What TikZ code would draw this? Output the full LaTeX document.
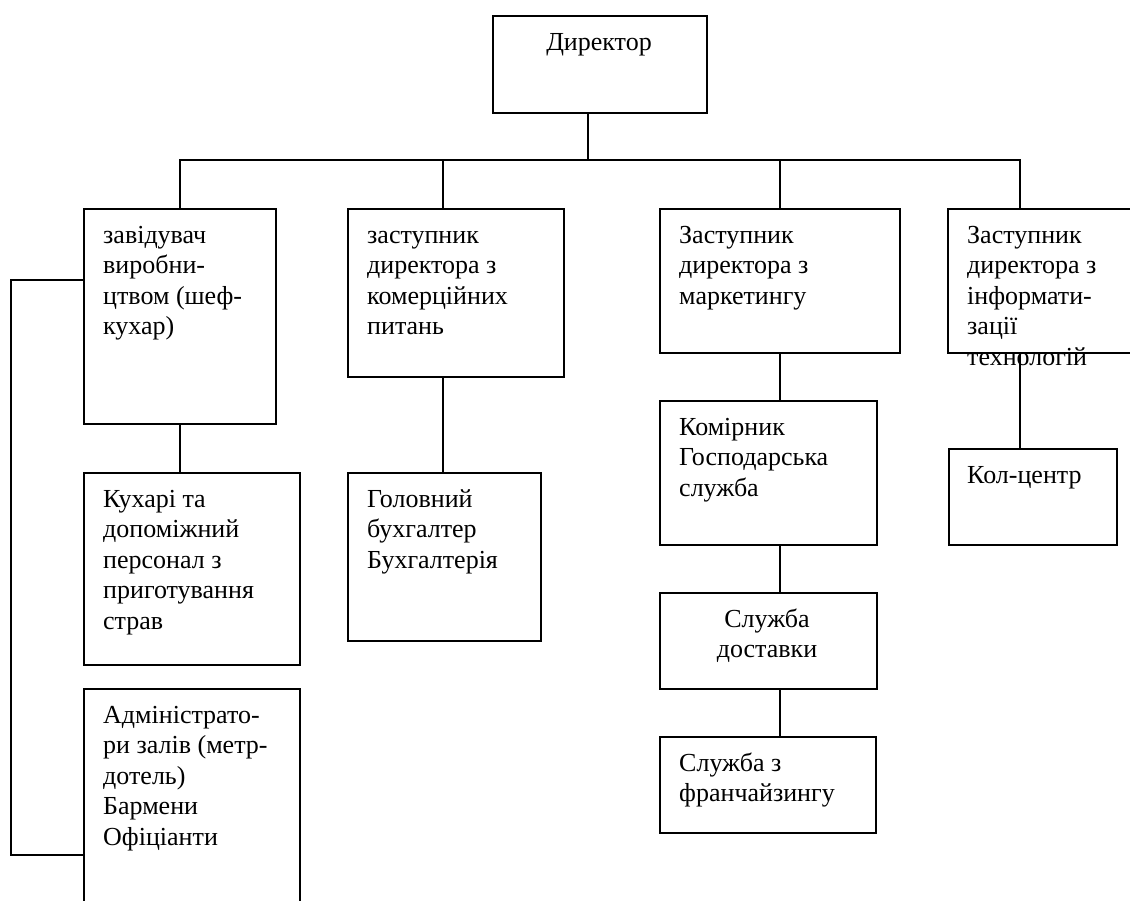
\documentclass[tikz,border=0pt]{standalone}
\usepackage{fontspec}
\setmainfont{Liberation Serif}
\newcommand{\lft}[1]{\begin{tabular}[t]{@{}l@{}}#1\end{tabular}}
\newcommand{\ctr}[1]{\begin{tabular}[t]{@{}c@{}}#1\end{tabular}}
\begin{document}
\begin{tikzpicture}[x=1pt,y=-1pt,
  box/.style={draw, line width=2pt, inner sep=0pt, anchor=north west},
  txt/.style={inner sep=0pt, anchor=base west, font=\fontsize{26}{30.5}\selectfont},
  ctxt/.style={inner sep=0pt, anchor=base, font=\fontsize{26}{30.5}\selectfont},
  conn/.style={line width=2pt}]
\useasboundingbox (0,0) rectangle (1130,900);
\clip (0,0) rectangle (1130,900);
\fill[white] (0,0) rectangle (1130,900);
% boxes
\node[box, minimum width=214pt, minimum height=97pt] (dir) at (492,15) {};
\node[box, minimum width=192pt, minimum height=215pt] (b1) at (83,208) {};
\node[box, minimum width=216pt, minimum height=168pt] (b2) at (347,208) {};
\node[box, minimum width=240pt, minimum height=144pt] (b3) at (659,208) {};
\node[box, minimum width=200pt, minimum height=144pt] (b4) at (947,208) {};
\node[box, minimum width=216pt, minimum height=192pt] (c1) at (83,472) {};
\node[box, minimum width=193pt, minimum height=168pt] (c2) at (347,472) {};
\node[box, minimum width=216pt, minimum height=230pt] (c3) at (83,688) {};
\node[box, minimum width=217pt, minimum height=144pt] (d1) at (659,400) {};
\node[box, minimum width=217pt, minimum height=96pt] (d2) at (659,592) {};
\node[box, minimum width=216pt, minimum height=96pt] (d3) at (659,736) {};
\node[box, minimum width=168pt, minimum height=96pt] (e1) at (948,448) {};
% texts
\node[ctxt] (tdir) at (599,50) {Директор};
\node[txt] (tb1) at (103,243) {\lft{завідувач\\виробни-\\цтвом (шеф-\\кухар)}};
\node[txt] (tb2) at (367,243) {\lft{заступник\\директора з\\комерційних\\питань}};
\node[txt] (tb3) at (679,243) {\lft{Заступник\\директора з\\маркетингу}};
\node[txt] (tb4) at (967,243) {\lft{Заступник\\директора з\\інформати-\\зації\\технологій}};
\node[txt] (tc1) at (103,507) {\lft{Кухарі та\\допоміжний\\персонал з\\приготування\\страв}};
\node[txt] (tc2) at (367,507) {\lft{Головний\\бухгалтер\\Бухгалтерія}};
\node[txt] (tc3) at (103,723) {\lft{Адміністрато-\\ри залів (метр-\\дотель)\\Бармени\\Офіціанти}};
\node[txt] (td1) at (679,435) {\lft{Комірник\\Господарська\\служба}};
\node[ctxt] (td2) at (767,627) {\ctr{Служба\\доставки}};
\node[txt] (td3) at (679,771) {\lft{Служба з\\франчайзингу}};
\node[txt] (te1) at (967,483) {Кол-центр};
% connector coordinates
\coordinate (j0) at (588,160);
\coordinate (k2) at (443,160);
\coordinate (k3) at (780,160);
\coordinate (k4) at (1020,160);
\coordinate (lb) at (11,280);
\coordinate (lb2) at (11,855);
% connectors
\draw[conn] (dir.south -| j0) -- (j0);
\draw[conn] (b1.north) -- (b1.north |- j0) -- (k4) -- (k4 |- b4.north);
\draw[conn] (k2) -- (k2 |- b2.north);
\draw[conn] (k3) -- (k3 |- b3.north);
\draw[conn] (b1.south) -- (b1.south |- c1.north);
\draw[conn] (k2 |- b2.south) -- (k2 |- c2.north);
\draw[conn] (k3 |- b3.south) -- (k3 |- d1.north);
\draw[conn] (k3 |- d1.south) -- (k3 |- d2.north);
\draw[conn] (k3 |- d2.south) -- (k3 |- d3.north);
\draw[conn] (k4 |- b4.south) -- (k4 |- e1.north);
\draw[conn] (b1.west |- lb) -- (lb) -- (lb2) -- (c3.west |- lb2);
\end{tikzpicture}
\end{document}
